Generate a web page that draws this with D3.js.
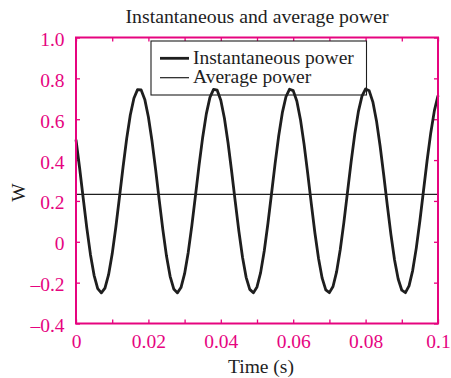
<!DOCTYPE html>
<html>
<head>
<meta charset="utf-8">
<script src="https://cdn.jsdelivr.net/npm/d3@7"></script>
<style>
  body { margin: 0; background: #fff; }
  text { font-family: "Liberation Serif", "Times New Roman", serif; }
</style>
</head>
<body>
<div id="chart"></div>
<script>
var sampleStep = 0.001;
var instPower = [
  0.500, 0.361, 0.212, 0.066, -0.063, -0.164, -0.229, -0.250, -0.227, -0.161,
  -0.059, 0.071, 0.217, 0.366, 0.505, 0.621, 0.703, 0.745, 0.743, 0.697,
  0.611, 0.493, 0.353, 0.203, 0.058, -0.070, -0.169, -0.231, -0.250, -0.224,
  -0.156, -0.052, 0.079, 0.226, 0.375, 0.512, 0.626, 0.707, 0.746, 0.742,
  0.693, 0.605, 0.485, 0.344, 0.195, 0.051, -0.076, -0.174, -0.233, -0.250,
  -0.221, -0.151, -0.045, 0.087, 0.234, 0.383, 0.519, 0.632, 0.710, 0.747,
  0.740, 0.689, 0.599, 0.478, 0.336, 0.187, 0.043, -0.082, -0.178, -0.235,
  -0.249, -0.219, -0.146, -0.038, 0.095, 0.243, 0.391, 0.526, 0.637, 0.713,
  0.748, 0.739, 0.685, 0.593, 0.470, 0.328, 0.178, 0.035, -0.089, -0.182,
  -0.237, -0.249, -0.216, -0.141, -0.031, 0.103, 0.251, 0.399, 0.533, 0.642,
  0.716
];
var avgPower = 0.232;

var xTicks = [0, 0.01, 0.02, 0.03, 0.04, 0.05, 0.06, 0.07, 0.08, 0.09, 0.1];
var xTickLabels = ["0", "", "0.02", "", "0.04", "", "0.06", "", "0.08", "", "0.1"];
var yTicks = [-0.4, -0.2, 0, 0.2, 0.4, 0.6, 0.8, 1.0];
var yTickLabels = ["\u20130.4", "\u20130.2", "0", "0.2", "0.4", "0.6", "0.8", "1.0"];

var legendNames = ["Instantaneous power", "Average power"];

(function draw(){
  var W = 451, H = 378;
  var pLeft = 76, pRight = 438, pTop = 37.5, pBottom = 323.5;
  var pink = "#e6047f", ink = "#1e1e1e";
  var font = '"Liberation Serif", "Times New Roman", serif';

  var svg = d3.select("#chart").append("svg")
    .attr("width", W)
    .attr("height", H);

  var x = d3.scaleLinear().domain([0, 0.1]).range([pLeft, pRight]);
  var y = d3.scaleLinear().domain([-0.4, 1.0]).range([pBottom, pTop]);

  // axes: inward ticks on all four sides
  function styleAxis(g) {
    g.select(".domain").remove();
    g.selectAll(".tick line").attr("stroke", pink).attr("stroke-width", 1.3);
    g.selectAll(".tick text")
      .attr("fill", pink)
      .style("font-size", "19.5px")
      .style("font-family", font);
  }

  svg.append("g")
    .attr("transform", "translate(0," + pBottom + ")")
    .call(d3.axisBottom(x).tickValues(xTicks).tickSizeInner(-4).tickSizeOuter(0).tickPadding(11)
      .tickFormat(function(d, i){ return xTickLabels[i]; }))
    .call(styleAxis);

  svg.append("g")
    .attr("transform", "translate(0," + pTop + ")")
    .call(d3.axisTop(x).tickValues(xTicks).tickSizeInner(-4).tickSizeOuter(0).tickFormat(""))
    .call(styleAxis);

  svg.append("g")
    .attr("transform", "translate(" + pLeft + ",0)")
    .call(d3.axisLeft(y).tickValues(yTicks).tickSizeInner(-4).tickSizeOuter(0).tickPadding(11.5)
      .tickFormat(function(d, i){ return yTickLabels[i]; }))
    .call(styleAxis)
    .selectAll(".tick text").attr("dy", "0.41em");

  svg.append("g")
    .attr("transform", "translate(" + pRight + ",0)")
    .call(d3.axisRight(y).tickValues(yTicks).tickSizeInner(-4).tickSizeOuter(0).tickFormat(""))
    .call(styleAxis);

  // legend box (curve peaks are drawn over its lower edge)
  var lg = svg.append("g");
  lg.append("rect")
    .attr("x", 151).attr("y", 41)
    .attr("width", 215.5).attr("height", 54)
    .attr("fill", "#fff")
    .attr("stroke", ink)
    .attr("stroke-width", 1.1);
  legendNames.forEach(function(name, i){
    var ly = 58.3 + i * 19.4;
    lg.append("line")
      .attr("x1", 160).attr("x2", 189)
      .attr("y1", ly).attr("y2", ly)
      .attr("stroke", ink)
      .attr("stroke-width", i === 0 ? 2.8 : 1.2);
    lg.append("text")
      .attr("x", 193).attr("y", ly + 5.7)
      .attr("fill", ink)
      .style("font-size", "19.5px")
      .text(name);
  });

  // average power
  svg.append("line")
    .attr("x1", x(0)).attr("x2", x(0.1))
    .attr("y1", y(avgPower)).attr("y2", y(avgPower))
    .attr("stroke", ink)
    .attr("stroke-width", 1.3);

  // instantaneous power
  var line = d3.line()
    .x(function(d, i){ return x(i * sampleStep); })
    .y(function(d){ return y(d); });

  svg.append("path")
    .datum(instPower)
    .attr("d", line)
    .attr("fill", "none")
    .attr("stroke", ink)
    .attr("stroke-width", 2.8)
    .attr("stroke-linejoin", "round");

  // frame
  svg.append("rect")
    .attr("x", pLeft).attr("y", pTop)
    .attr("width", pRight - pLeft).attr("height", pBottom - pTop)
    .attr("fill", "none")
    .attr("stroke", pink)
    .attr("stroke-width", 2);

  // titles
  svg.append("text")
    .attr("x", 257).attr("y", 22.7)
    .attr("text-anchor", "middle")
    .attr("fill", ink)
    .style("font-size", "19.8px")
    .text("Instantaneous and average power");

  svg.append("text")
    .attr("x", 261).attr("y", 373)
    .attr("text-anchor", "middle")
    .attr("fill", ink)
    .style("font-size", "19.5px")
    .text("Time (s)");

  svg.append("text")
    .attr("transform", "translate(25,192.5) rotate(-90)")
    .attr("text-anchor", "middle")
    .attr("fill", ink)
    .style("font-size", "19.5px")
    .text("W");
})();
</script>
</body>
</html>
